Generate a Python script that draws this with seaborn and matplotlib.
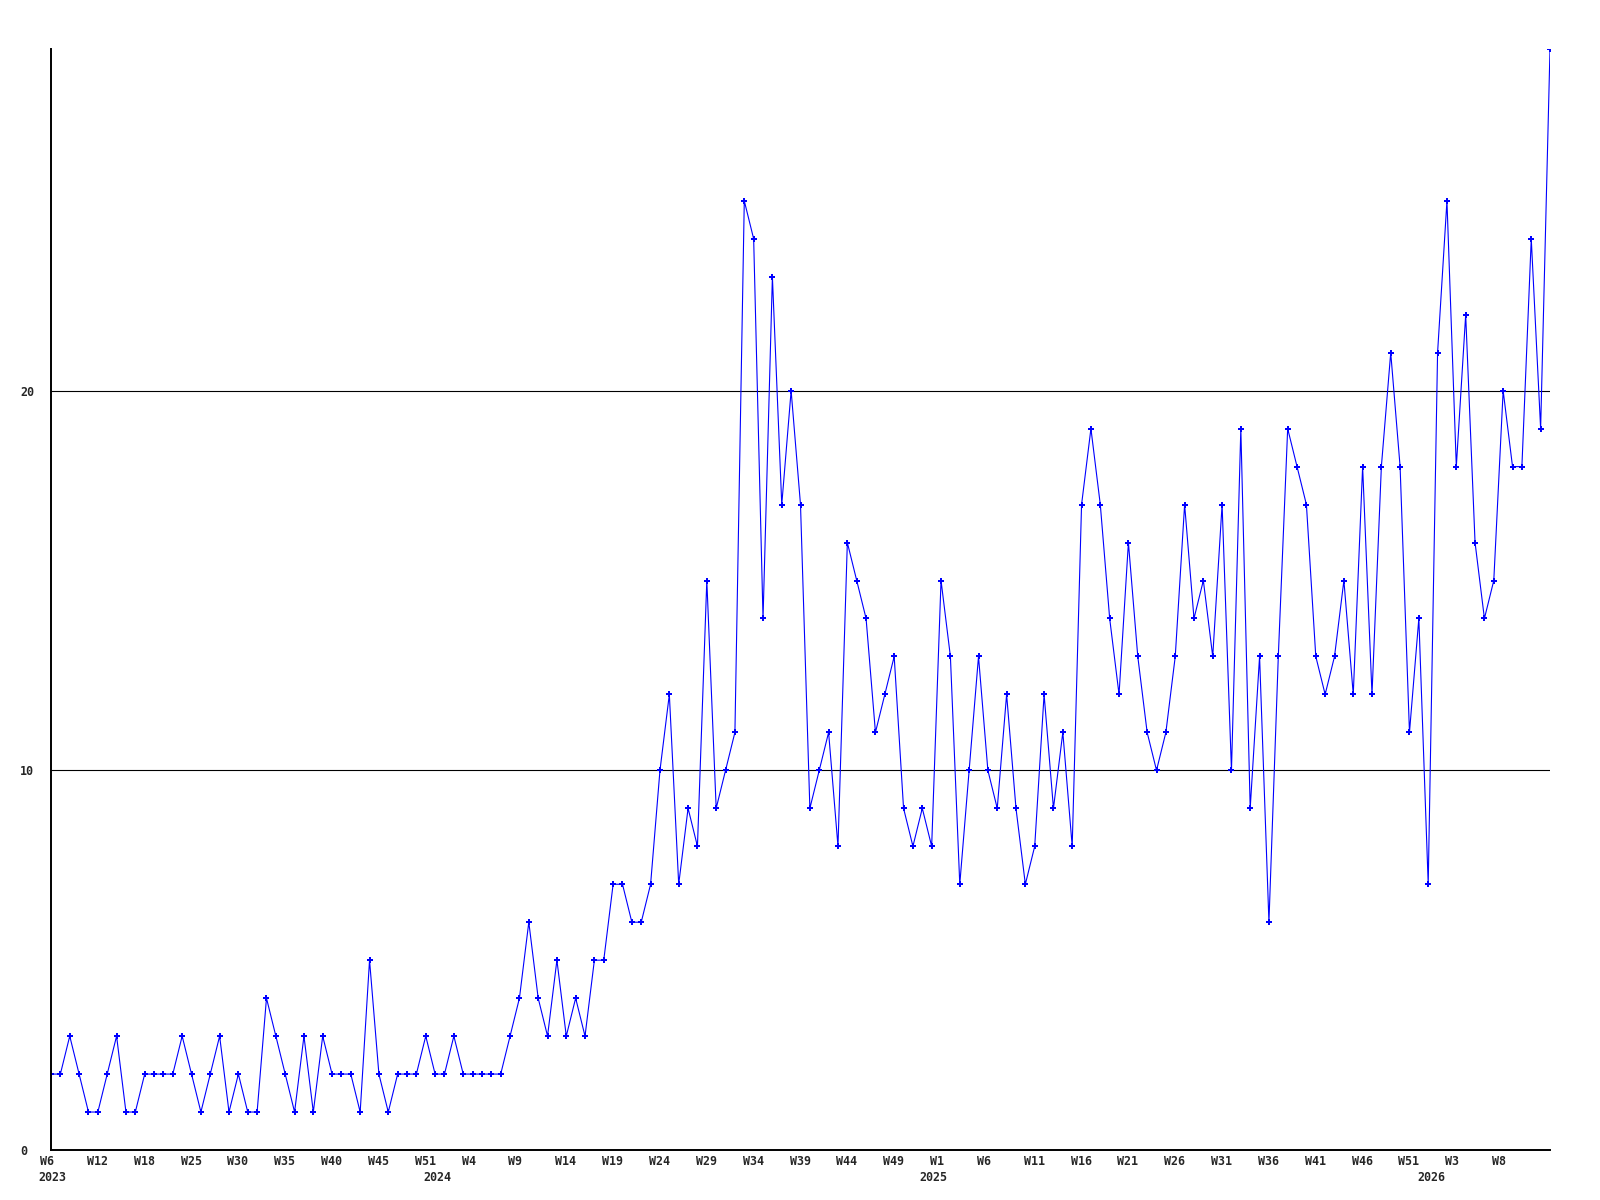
import numpy as np
import pandas as pd
import seaborn as sns
import matplotlib.pyplot as plt
from matplotlib.transforms import ScaledTranslation

# weekly counts, W6 2023 onwards
counts = [
    2, 2, 3, 2, 1, 1, 2, 3, 1, 1,
    2, 2, 2, 2, 3, 2, 1, 2, 3, 1,
    2, 1, 1, 4, 3, 2, 1, 3, 1, 3,
    2, 2, 2, 1, 5, 2, 1, 2, 2, 2,
    3, 2, 2, 3, 2, 2, 2, 2, 2, 3,
    4, 6, 4, 3, 5, 3, 4, 3, 5, 5,
    7, 7, 6, 6, 7, 10, 12, 7, 9, 8,
    15, 9, 10, 11, 25, 24, 14, 23, 17, 20,
    17, 9, 10, 11, 8, 16, 15, 14, 11, 12,
    13, 9, 8, 9, 8, 15, 13, 7, 10, 13,
    10, 9, 12, 9, 7, 8, 12, 9, 11, 8,
    17, 19, 17, 14, 12, 16, 13, 11, 10, 11,
    13, 17, 14, 15, 13, 17, 10, 19, 9, 13,
    6, 13, 19, 18, 17, 13, 12, 13, 15, 12,
    18, 12, 18, 21, 18, 11, 14, 7, 21, 25,
    18, 22, 16, 14, 15, 20, 18, 18, 24, 19,
    29,
]

week_labels = ["W6", "W12", "W18", "W25", "W30", "W35", "W40", "W45", "W51",
               "W4", "W9", "W14", "W19", "W24", "W29", "W34", "W39", "W44", "W49",
               "W1", "W6", "W11", "W16", "W21", "W26", "W31", "W36", "W41", "W46",
               "W51", "W3", "W8"]
years = ["2023", "2024", "2025", "2026"]
year_pos = [0.2, 41.2, 94.2, 147.3]

df = pd.DataFrame({"idx": np.arange(len(counts)), "count": counts})

sns.set_style("white")
plt.rcParams['font.family'] = ['DejaVu Sans Mono']

fig = plt.figure(figsize=(16, 12), dpi=100)
ax = fig.add_axes([51 / 1600, 1 - 1150 / 1200, 1499 / 1600, 1101 / 1200])

sns.lineplot(data=df, x="idx", y="count", ax=ax, color="#0000ff", linewidth=0.8,
             marker="P", markersize=4.5, markeredgewidth=0, clip_on=True)

ax.set_xlim(0, len(counts) - 1)
ax.set_ylim(0, max(counts))

for v in [10, 20]:
    ax.axhline(v, color="black", linewidth=0.8, zorder=0)

for side in ["top", "right"]:
    ax.spines[side].set_visible(False)
for side in ["left", "bottom"]:
    ax.spines[side].set_color("black")
    ax.spines[side].set_linewidth(1.4)

ax.set_yticks([0, 10, 20])
ax.set_yticklabels(["0", "10", "20"], fontsize=8.4, fontweight="bold", ha="left")
ax.tick_params(axis="y", length=0, pad=22.3)

ax.set_xticks(np.arange(0, len(counts) - 1, 5))
ax.set_xticklabels(week_labels, fontsize=8.4, fontweight="bold", ha="left")
ax.tick_params(axis="x", length=0, pad=3.5)
shift = ScaledTranslation(-11 / 100, 0, fig.dpi_scale_trans)
for lab in ax.get_xticklabels():
    lab.set_transform(lab.get_transform() + shift)

trans = ax.get_xaxis_transform()
for yr, pos in zip(years, year_pos):
    ax.text(pos, -21 / 1101, yr, transform=trans, ha="center", va="top",
            fontsize=8.4, fontweight="bold")

ax.set_xlabel("")
ax.set_ylabel("")

fig.savefig("out.png", dpi=100)
